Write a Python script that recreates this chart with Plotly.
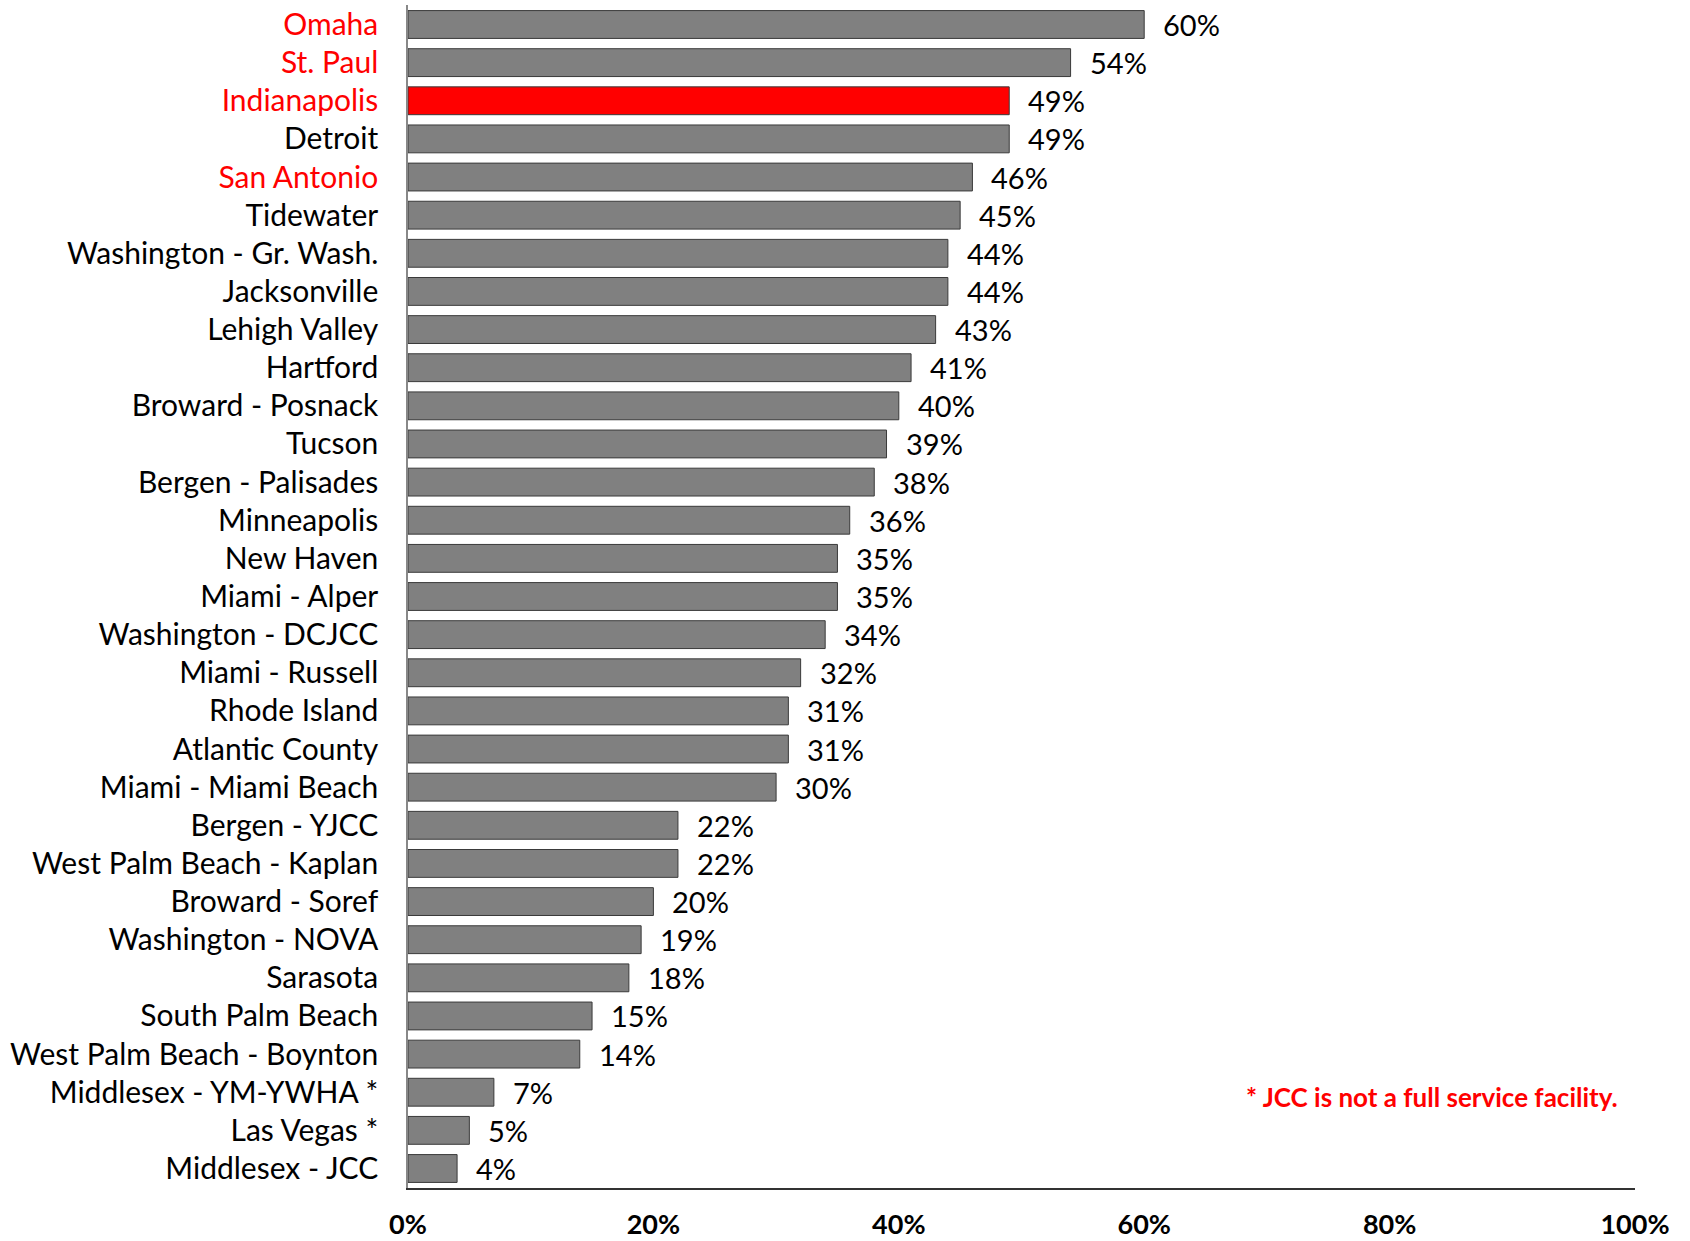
import plotly.graph_objects as go

categories = ["Omaha", "St. Paul", "Indianapolis", "Detroit", "San Antonio", "Tidewater",
              "Washington - Gr. Wash.", "Jacksonville", "Lehigh Valley", "Hartford",
              "Broward - Posnack", "Tucson", "Bergen - Palisades", "Minneapolis", "New Haven",
              "Miami - Alper", "Washington - DCJCC", "Miami - Russell", "Rhode Island",
              "Atlantic County", "Miami - Miami Beach", "Bergen - YJCC",
              "West Palm Beach - Kaplan", "Broward - Soref", "Washington - NOVA", "Sarasota",
              "South Palm Beach", "West Palm Beach - Boynton", "Middlesex - YM-YWHA *",
              "Las Vegas *", "Middlesex - JCC"]
values = [60, 54, 49, 49, 46, 45, 44, 44, 43, 41, 40, 39, 38, 36, 35, 35, 34, 32, 31, 31,
          30, 22, 22, 20, 19, 18, 15, 14, 7, 5, 4]
red_labels = ["Omaha", "St. Paul", "Indianapolis", "San Antonio"]
highlight = "Indianapolis"
x_ticks = [0, 20, 40, 60, 80, 100]
x_tick_labels = ["0%", "20%", "40%", "60%", "80%", "100%"]
footnote = "* JCC is not a full service facility."

FONT = "Lato"
colors = ["#FF0000" if c == highlight else "#808080" for c in categories]
ticktext = [f"<span style='color:#FF0000'>{c}</span>" if c in red_labels else c for c in categories]

fig = go.Figure()
fig.add_trace(go.Bar(
    y=categories, x=values, orientation="h",
    marker=dict(color=colors, line=dict(color="#3a3a3a", width=1)),
    hoverinfo="skip",
))

for c, v in zip(categories, values):
    fig.add_annotation(x=v, y=c, text=f"{v}%", showarrow=False, xanchor="left",
                       xshift=17, yshift=0, font=dict(family=FONT, size=29, color="#000000"))

fig.add_annotation(xref="paper", yref="paper", x=0.988, y=0.077, text=f"<b>{footnote}</b>",
                   showarrow=False, xanchor="right", yanchor="middle",
                   font=dict(family=FONT, size=26, color="#FF0000"))

fig.update_layout(
    width=1690, height=1241,
    margin=dict(l=408, r=55, t=5, b=53),
    plot_bgcolor="white", paper_bgcolor="white",
    bargap=0.27,
    showlegend=False,
    xaxis=dict(range=[0, 100], tickvals=x_ticks, ticktext=[f"<b>{t}</b>" for t in x_tick_labels],
               showgrid=False, zeroline=False, showline=True, linecolor="#333333", linewidth=1.5,
               ticks="", ticklabelstandoff=12, automargin=False,
               tickfont=dict(family=FONT, size=27, color="#000000")),
    yaxis=dict(autorange="reversed", tickvals=categories, ticktext=ticktext,
               showgrid=False, zeroline=False, showline=True, linecolor="#888888", linewidth=1.5,
               ticks="", ticklabelstandoff=22, automargin=False,
               tickfont=dict(family=FONT, size=30, color="#000000")),
)

fig.write_html("out.html", config={"displayModeBar": False},
               post_script="document.body.style.margin='0px';document.body.style.overflow='hidden';")
